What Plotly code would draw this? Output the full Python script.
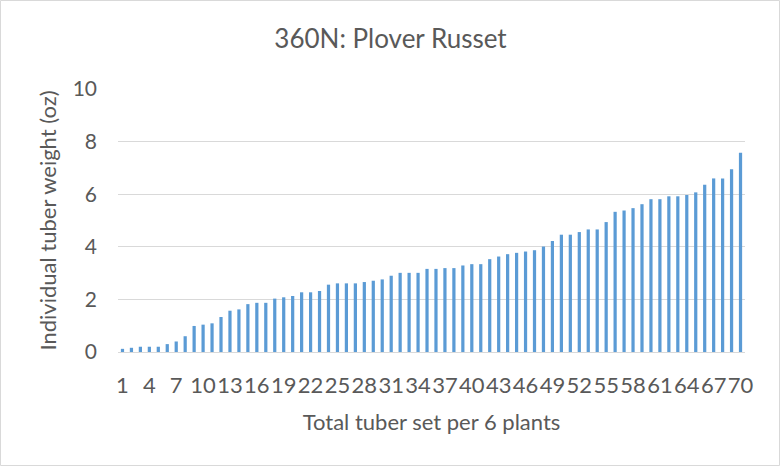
import plotly.graph_objects as go

categories = [str(i) for i in range(1, 71)]
weights = [
    0.12, 0.16, 0.20, 0.20, 0.20, 0.30, 0.40, 0.60, 0.99, 1.04, 1.09, 1.33, 1.57, 1.62, 1.82, 1.87, 1.87,
    2.03, 2.08, 2.13, 2.27, 2.27, 2.32, 2.56, 2.61, 2.61, 2.61, 2.66, 2.71, 2.76, 2.90, 3.01, 3.01, 3.01, 3.16,
    3.16, 3.19, 3.19, 3.29, 3.34, 3.34, 3.53, 3.63, 3.72, 3.77, 3.82, 3.87, 4.01, 4.22, 4.46, 4.46, 4.56, 4.66,
    4.66, 4.94, 5.33, 5.38, 5.47, 5.62, 5.81, 5.81, 5.92, 5.92, 5.97, 6.07, 6.36, 6.60, 6.60, 6.95, 7.58,
]
x_tick_labels = [str(i) for i in range(1, 71, 3)]
y_tick_values = [0, 2, 4, 6, 8, 10]

W, H = 781, 467
ML, MR, MT, MB = 118, 36, 89, 115
pw = W - ML - MR
ph = H - MT - MB

text_color = "#595959"
font_family = "Lato, Carlito, 'Open Sans', sans-serif"

fig = go.Figure(
    go.Bar(
        x=categories,
        y=weights,
        marker=dict(color="#5b9bd5", line=dict(width=0)),
    )
)

fig.update_layout(
    width=W,
    height=H,
    margin=dict(l=ML, r=MR, t=MT, b=MB),
    paper_bgcolor="white",
    plot_bgcolor="white",
    bargap=0.64,
    showlegend=False,
    font=dict(family=font_family, color=text_color, size=22),
    title=dict(
        text="360N: Plover Russet",
        x=0.5,
        xanchor="center",
        y=1 - 39 / H,
        yanchor="middle",
        font=dict(size=26, color=text_color, family=font_family),
    ),
    xaxis=dict(
        type="category",
        tickmode="array",
        tickvals=x_tick_labels,
        ticktext=x_tick_labels,
        tickangle=0,
        showgrid=False,
        showline=True,
        linecolor="#d9d9d9",
        linewidth=1,
        ticks="",
        ticklabelstandoff=14,
        tickfont=dict(size=22, color=text_color),
        title=dict(text="Total tuber set per 6 plants", font=dict(size=22, color=text_color), standoff=17),
    ),
    yaxis=dict(
        range=[0, 10],
        tickmode="array",
        tickvals=y_tick_values,
        showgrid=True,
        gridcolor="#d9d9d9",
        gridwidth=1,
        zeroline=False,
        showline=False,
        ticks="",
        ticklabelstandoff=20,
        tickfont=dict(size=21, color=text_color),
        title=dict(text="Individual tuber weight (oz)", font=dict(size=22, color=text_color), standoff=9),
    ),
    shapes=[
        dict(
            type="rect",
            xref="paper",
            yref="paper",
            x0=-(ML - 0.5) / pw,
            x1=1 + (MR - 1.5) / pw,
            y0=-(MB - 1.5) / ph,
            y1=1 + (MT - 0.5) / ph,
            line=dict(color="#d9d9d9", width=1),
            fillcolor="rgba(0,0,0,0)",
            layer="below",
        )
    ],
)

fig.write_html(
    "out.html",
    config={"displayModeBar": False},
    post_script="document.body.style.margin='0';document.body.style.overflow='hidden';",
)
